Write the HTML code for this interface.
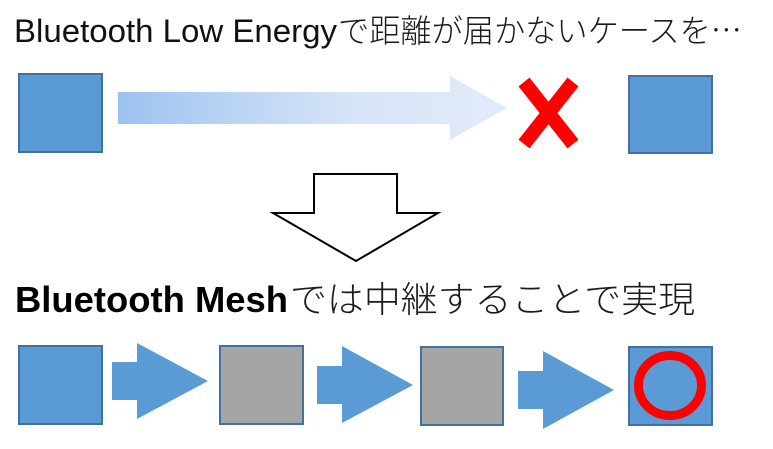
<!DOCTYPE html>
<html><head><meta charset="utf-8"><style>
html,body{margin:0;padding:0;background:#fff;}
svg{display:block;}
</style></head><body>
<svg width="773" height="449" viewBox="0 0 773 449" xmlns="http://www.w3.org/2000/svg">
<defs>
<linearGradient id="g" x1="118" y1="0" x2="507" y2="0" gradientUnits="userSpaceOnUse">
<stop offset="0" stop-color="#9cc2f0"/>
<stop offset="0.3" stop-color="#bbd4f4"/>
<stop offset="0.6" stop-color="#d6e4f7"/>
<stop offset="1" stop-color="#e2ebf8"/>
</linearGradient>
</defs>
<rect width="773" height="449" fill="#fff"/>
<text x="14" y="42" font-family="'Liberation Sans','Noto Sans CJK JP',sans-serif" font-size="32" fill="#111" textLength="323" lengthAdjust="spacingAndGlyphs">Bluetooth Low Energy</text>
<text x="338" y="42" font-family="'Noto Sans CJK JP',sans-serif" font-weight="300" font-size="32" fill="#1a1a1a" textLength="404" lengthAdjust="spacingAndGlyphs">で距離が届かないケースを…</text>

<rect x="19" y="74" width="83" height="78" fill="#5b9bd5" stroke="#41719c" stroke-width="2"/>
<polygon points="118,92 450,92 450,76 507,108 450,140 450,124 118,124" fill="url(#g)"/>
<g stroke="#ff0000" stroke-width="14" stroke-linecap="butt">
<line x1="524" y1="82" x2="573" y2="144"/>
<line x1="573" y1="82" x2="524" y2="144"/>
</g>
<rect x="629" y="76" width="83" height="77" fill="#5b9bd5" stroke="#41719c" stroke-width="2"/>

<polygon points="314,174 397,174 397,213 438,213 356,261 273,213 314,213" fill="#fff" stroke="#000" stroke-width="2"/>

<text x="15" y="312" font-family="'Liberation Sans','Noto Sans CJK JP',sans-serif" font-size="36" font-weight="bold" fill="#000" textLength="273" lengthAdjust="spacingAndGlyphs">Bluetooth Mesh</text>
<text x="290" y="312" font-family="'Noto Sans CJK JP',sans-serif" font-weight="300" font-size="36" fill="#1a1a1a" textLength="405" lengthAdjust="spacingAndGlyphs">では中継することで実現</text>

<rect x="19" y="346" width="83" height="78" fill="#5b9bd5" stroke="#41719c" stroke-width="2"/>
<polygon points="112,362 137,362 137,343 208,381 137,419 137,400 112,400" fill="#5b9bd5"/>
<rect x="220" y="346" width="83" height="78" fill="#a5a5a5" stroke="#41719c" stroke-width="2"/>
<polygon points="317,366 342,366 342,346 413,385 342,423 342,404 317,404" fill="#5b9bd5"/>
<rect x="421" y="347" width="82" height="78" fill="#a5a5a5" stroke="#41719c" stroke-width="2"/>
<polygon points="518,371 543,371 543,351 614,390 543,429 543,409 518,409" fill="#5b9bd5"/>
<rect x="629" y="347" width="83" height="78" fill="#5b9bd5" stroke="#41719c" stroke-width="2"/>
<ellipse cx="670" cy="385.5" rx="31.5" ry="30" fill="none" stroke="#ff0000" stroke-width="9"/>
</svg>
</body></html>
